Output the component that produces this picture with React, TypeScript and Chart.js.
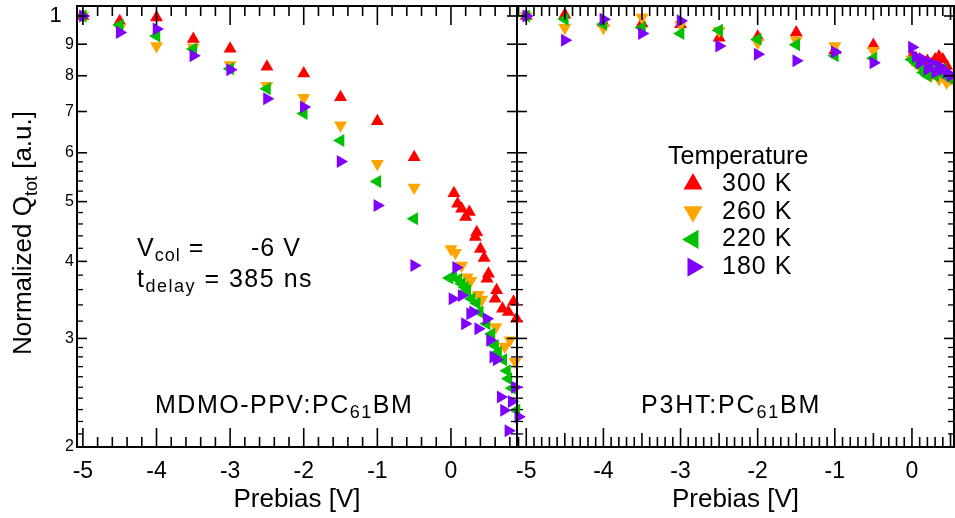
import React, { useEffect, useRef } from 'react';
import { Chart, registerables } from 'chart.js';
import { drawPoint } from 'chart.js/helpers';

Chart.register(...registerables);

const FONT = '"Liberation Sans", Arial, Helvetica, sans-serif';

// ---- series styling ----
const seriesLabels = ['300 K', '260 K', '220 K', '180 K'];
const seriesColors = ['#ff0000', '#ffa500', '#00c000', '#7f00ff'];
const seriesRotations = [0, 180, 270, 90];
const seriesOrder = [4, 3, 2, 1];

// ---- left panel: MDMO-PPV:PC61BM ----
const leftCoarseX = [-5, -4.5, -4, -3.5, -3, -2.5, -2, -1.5, -1, -0.5];
const left300Coarse = [1.0, 0.981, 0.994, 0.918, 0.885, 0.827, 0.807, 0.738, 0.675, 0.59];
const left260Coarse = [1.0, 0.957, 0.894, 0.889, 0.833, 0.771, 0.737, 0.665, 0.576, 0.527];
const left220Coarse = [1.0, 0.967, 0.928, 0.884, 0.821, 0.762, 0.695, 0.628, 0.539, 0.469];
const left180Coarse = [1.0, 0.94, 0.953, 0.862, 0.818, 0.734, 0.712, 0.581, 0.493, 0.394];

const left300DenseX = [0.04, 0.09, 0.145, 0.2, 0.25, 0.33, 0.35, 0.4, 0.45, 0.49, 0.51, 0.6, 0.62, 0.7, 0.78, 0.85, 0.89];
const left300DenseY = [0.516, 0.496, 0.487, 0.472, 0.481, 0.438, 0.446, 0.419, 0.405, 0.375, 0.382, 0.348, 0.359, 0.335, 0.331, 0.344, 0.323];
const left260DenseX = [0.0, 0.06, 0.145, 0.22, 0.27, 0.37, 0.42, 0.61, 0.73, 0.8, 0.87];
const left260DenseY = [0.419, 0.413, 0.394, 0.377, 0.372, 0.353, 0.347, 0.313, 0.291, 0.298, 0.275];
const left220DenseX = [-0.02, 0.03, 0.1, 0.145, 0.19, 0.22, 0.28, 0.35, 0.39, 0.485, 0.55, 0.6, 0.64, 0.71, 0.76, 0.78, 0.83, 0.89];
const left220DenseY = [0.376, 0.378, 0.374, 0.368, 0.363, 0.359, 0.348, 0.342, 0.331, 0.317, 0.305, 0.292, 0.285, 0.277, 0.266, 0.258, 0.249, 0.2295];
const left180DenseX = [0.02, 0.07, 0.145, 0.19, 0.26, 0.3, 0.37, 0.485, 0.53, 0.575, 0.62, 0.675, 0.72, 0.78, 0.825, 0.87, 0.915];
const left180DenseY = [0.348, 0.391, 0.352, 0.317, 0.329, 0.331, 0.311, 0.323, 0.298, 0.28, 0.277, 0.241, 0.2295, 0.2125, 0.237, 0.25, 0.224];

// ---- right panel: P3HT:PC61BM ----
const rightCoarseX = [-5, -4.5, -4, -3.5, -3, -2.5, -2, -1.5, -1, -0.5];
const right300Coarse = [1.0, 1.005, 0.975, 0.972, 0.97, 0.922, 0.925, 0.94, 0.88, 0.897];
const right260Coarse = [1.0, 0.957, 0.957, 0.994, 0.968, 0.946, 0.905, 0.913, 0.894, 0.878];
const right220Coarse = [1.0, 0.988, 0.97, 0.957, 0.937, 0.948, 0.917, 0.898, 0.862, 0.854];
const right180Coarse = [1.0, 0.913, 0.988, 0.937, 0.982, 0.894, 0.867, 0.846, 0.874, 0.84];

const rightDenseX = [0.0, 0.05, 0.1, 0.15, 0.2, 0.25, 0.3, 0.35, 0.4, 0.45, 0.5];
const right300DenseY = [0.86, 0.855, 0.85, 0.84, 0.845, 0.835, 0.85, 0.86, 0.85, 0.83, 0.79];
const right260DenseY = [0.85, 0.84, 0.83, 0.82, 0.81, 0.8, 0.81, 0.79, 0.8, 0.78, 0.79];
const right220DenseY = [0.85, 0.84, 0.83, 0.81, 0.8, 0.82, 0.8, 0.81, 0.82, 0.8, 0.79];
const right180DenseY = [0.89, 0.86, 0.84, 0.85, 0.82, 0.84, 0.81, 0.83, 0.82, 0.81, 0.8];

// ---- axes ----
const xTickValues = [-5, -4, -3, -2, -1, 0];
const xTickLabels = ['-5', '-4', '-3', '-2', '-1', '0'];
const yTickValues = [1, 0.9, 0.8, 0.7, 0.6, 0.5, 0.4, 0.3, 0.2];
const yTickLabels = ['1\u2007', '9', '8', '7', '6', '5', '4', '3', '2'];
const yMinorTicks = [0.21, 0.22, 0.23, 0.24, 0.25, 0.26, 0.27, 0.28, 0.29, 0.32, 0.34, 0.36, 0.38, 0.42, 0.44, 0.46, 0.48, 0.52, 0.54, 0.56, 0.58];
const yMin = 0.2;
const yMax = 1.038;
const leftXRange = [-5.08, 0.897];
const rightXRange = [-5.12, 0.545];

type Seg = { t: string; sub?: boolean };
type RichItem = { segs: Seg[]; x: number; y: number; size: number; ls?: number; rotate?: boolean; align?: 'left' | 'center' };

function zip(xs: number[], ys: number[]) {
  return xs.map((x, i) => ({ x, y: ys[i] }));
}

function makeDatasets(coarseX: number[], coarse: number[][], denseX: number[][], dense: number[][]) {
  return seriesLabels.map((label, i) => ({
    label,
    data: zip(coarseX, coarse[i]).concat(zip(denseX[i], dense[i])),
    backgroundColor: seriesColors[i],
    borderColor: seriesColors[i],
    pointStyle: 'triangle',
    pointRotation: seriesRotations[i],
    pointRadius: 7.5,
    pointHoverRadius: 7.5,
    pointBorderWidth: 0,
    showLine: false,
    clip: false,
    order: seriesOrder[i],
  }));
}

function drawRich(ctx: CanvasRenderingContext2D, item: RichItem) {
  const main = `${item.size}px ${FONT}`;
  const sub = `${Math.round(item.size * 0.7)}px ${FONT}`;
  ctx.save();
  (ctx as any).letterSpacing = `${item.ls || 0}px`;
  ctx.fillStyle = '#000';
  ctx.textBaseline = 'alphabetic';
  ctx.textAlign = 'left';
  let total = 0;
  for (const s of item.segs) {
    ctx.font = s.sub ? sub : main;
    total += ctx.measureText(s.t).width;
  }
  ctx.translate(item.x, item.y);
  if (item.rotate) ctx.rotate(-Math.PI / 2);
  let cx = item.align === 'center' ? -total / 2 : 0;
  const base = item.size * 0.358;
  for (const s of item.segs) {
    ctx.font = s.sub ? sub : main;
    ctx.fillText(s.t, cx, s.sub ? base + item.size * 0.22 : base);
    cx += ctx.measureText(s.t).width;
  }
  ctx.restore();
  (ctx as any).letterSpacing = '0px';
}

function framePlugin(xStep: number, xMedium: number | null) {
  return {
    id: 'panelFrame',
    afterDatasetsDraw(chart: any) {
      const { ctx, chartArea } = chart;
      const { left, right, top, bottom } = chartArea;
      const xs = chart.scales.x;
      const ys = chart.scales.y;
      ctx.save();
      ctx.strokeStyle = '#000';
      ctx.lineCap = 'butt';
      const line = (x1: number, y1: number, x2: number, y2: number) => {
        ctx.beginPath();
        ctx.moveTo(x1, y1);
        ctx.lineTo(x2, y2);
        ctx.stroke();
      };
      ctx.lineWidth = 1.6;
      const n0 = Math.ceil(xs.min / xStep - 1e-6);
      const n1 = Math.floor(xs.max / xStep + 1e-6);
      for (let n = n0; n <= n1; n++) {
        const v = n * xStep;
        const isMajor = Math.abs(v - Math.round(v)) < 1e-6;
        const isMed = xMedium !== null && Math.abs(v / xMedium - Math.round(v / xMedium)) < 1e-6;
        const len = isMajor ? 19 : isMed ? 14 : 10;
        const px = xs.getPixelForValue(v);
        line(px, top, px, top + len);
        line(px, bottom, px, bottom - len);
      }
      for (const v of yTickValues) {
        const py = ys.getPixelForValue(v);
        line(left, py, left + 10, py);
        line(right, py, right - 10, py);
      }
      ctx.lineWidth = 1.3;
      for (const v of yMinorTicks) {
        const py = ys.getPixelForValue(v);
        line(left, py, left + 6, py);
        line(right, py, right - 6, py);
      }
      ctx.lineWidth = 2;
      ctx.strokeRect(left, top, right - left, bottom - top);
      ctx.restore();
    },
  };
}

function richPlugin(items: RichItem[]) {
  return {
    id: 'richText',
    afterDraw(chart: any) {
      for (const it of items) drawRich(chart.ctx, it);
    },
  };
}

function legendPlugin(x: number, y: number) {
  return {
    id: 'tempLegend',
    afterDraw(chart: any) {
      const ctx = chart.ctx as CanvasRenderingContext2D;
      ctx.save();
      ctx.fillStyle = '#000';
      ctx.textBaseline = 'middle';
      ctx.textAlign = 'left';
      ctx.font = `25px ${FONT}`;
      ctx.fillText('Temperature', x, y);
      (ctx as any).letterSpacing = '1px';
      chart.data.datasets.forEach((ds: any, i: number) => {
        const cy = y + 26 + i * 27.7;
        ctx.fillStyle = ds.backgroundColor;
        ctx.strokeStyle = ds.backgroundColor;
        drawPoint(ctx, { pointStyle: 'triangle', rotation: ds.pointRotation, radius: 11, borderWidth: 0 } as any, x + 25, cy + 1);
        ctx.fillStyle = '#000';
        ctx.font = `25px ${FONT}`;
        ctx.fillText(ds.label, x + 54, cy + 1);
      });
      ctx.restore();
      (ctx as any).letterSpacing = '0px';
    },
  };
}

const zeroPad = (s: any) => {
  s.paddingLeft = 0;
  s.paddingRight = 0;
  s.paddingTop = 0;
  s.paddingBottom = 0;
};

function xScale(range: number[]) {
  return {
    type: 'linear' as const,
    min: range[0],
    max: range[1],
    grid: { display: false, drawTicks: false },
    border: { display: false },
    afterBuildTicks: (s: any) => {
      s.ticks = xTickValues.map((v) => ({ value: v }));
    },
    afterFit: (s: any) => {
      s.height = 71;
      zeroPad(s);
    },
    ticks: {
      autoSkip: false,
      maxRotation: 0,
      minRotation: 0,
      padding: 11,
      color: '#000',
      font: { family: FONT, size: 23 },
      callback: (_v: any, i: number) => xTickLabels[i],
    },
    title: {
      display: true,
      text: 'Prebias [V]',
      color: '#000',
      font: { family: FONT, size: 26 },
      padding: { top: 0, bottom: 3 },
    },
  };
}

export default function App() {
  const leftRef = useRef<HTMLCanvasElement>(null);
  const rightRef = useRef<HTMLCanvasElement>(null);

  useEffect(() => {
    const leftData = makeDatasets(
      leftCoarseX,
      [left300Coarse, left260Coarse, left220Coarse, left180Coarse],
      [left300DenseX, left260DenseX, left220DenseX, left180DenseX],
      [left300DenseY, left260DenseY, left220DenseY, left180DenseY]
    );
    const rightData = makeDatasets(
      rightCoarseX,
      [right300Coarse, right260Coarse, right220Coarse, right180Coarse],
      [rightDenseX, rightDenseX, rightDenseX, rightDenseX],
      [right300DenseY, right260DenseY, right220DenseY, right180DenseY]
    );

    const leftChart = new Chart(leftRef.current as HTMLCanvasElement, {
      type: 'scatter',
      data: { datasets: leftData as any },
      options: {
        responsive: false,
        animation: false,
        events: [],
        layout: { autoPadding: false, padding: { top: 6, right: 13, left: 0, bottom: 0 } },
        plugins: { legend: { display: false }, tooltip: { enabled: false } },
        scales: {
          x: xScale(leftXRange) as any,
          y: {
            type: 'logarithmic',
            min: yMin,
            max: yMax,
            grid: { display: false, drawTicks: false },
            border: { display: false },
            afterBuildTicks: (s: any) => {
              s.ticks = yTickValues.map((v) => ({ value: v }));
            },
            afterFit: (s: any) => {
              s.width = 77;
              zeroPad(s);
            },
            ticks: {
              autoSkip: false,
              padding: 3,
              color: '#000',
              font: (c: any) => ({ family: FONT, size: c.index === 0 ? 22 : 16 }),
              callback: (_v: any, i: number) => yTickLabels[i],
            },
          } as any,
        },
      },
      plugins: [
        framePlugin(0.2, null),
        richPlugin([
          { segs: [{ t: 'Normalized Q' }, { t: 'tot', sub: true }, { t: ' [a.u.]' }], x: 22, y: 233, size: 26, rotate: true, align: 'center' },
          { segs: [{ t: 'V' }, { t: 'col', sub: true }, { t: ' =' }], x: 137, y: 247, size: 25, ls: 1 },
          { segs: [{ t: '-6 V' }], x: 251, y: 247, size: 25, ls: 1 },
          { segs: [{ t: 't' }, { t: 'delay', sub: true }, { t: ' = 385 ns' }], x: 137, y: 278, size: 25, ls: 1.5 },
          { segs: [{ t: 'MDMO-PPV:PC' }, { t: '61', sub: true }, { t: 'BM' }], x: 155, y: 404, size: 25, ls: 1.5 },
        ]),
      ],
    });

    const rightChart = new Chart(rightRef.current as HTMLCanvasElement, {
      type: 'scatter',
      data: { datasets: rightData as any },
      options: {
        responsive: false,
        animation: false,
        events: [],
        layout: { autoPadding: false, padding: { top: 6, right: 1, left: 12, bottom: 0 } },
        plugins: { legend: { display: false }, tooltip: { enabled: false } },
        scales: {
          x: xScale(rightXRange) as any,
          y: { type: 'logarithmic', min: yMin, max: yMax, display: false } as any,
        },
      },
      plugins: [
        framePlugin(0.1, 0.5),
        richPlugin([{ segs: [{ t: 'P3HT:PC' }, { t: '61', sub: true }, { t: 'BM' }], x: 136, y: 404, size: 25, ls: 1.8 }]),
        legendPlugin(163, 157),
      ],
    });

    return () => {
      leftChart.destroy();
      rightChart.destroy();
    };
  }, []);

  return (
    <div style={{ position: 'absolute', left: 0, top: 0, width: 955, height: 518, background: '#fff', overflow: 'hidden' }}>
      <canvas ref={rightRef} width={450} height={518} style={{ position: 'absolute', left: 505, top: 0 }} />
      <canvas ref={leftRef} width={530} height={518} style={{ position: 'absolute', left: 0, top: 0 }} />
    </div>
  );
}
